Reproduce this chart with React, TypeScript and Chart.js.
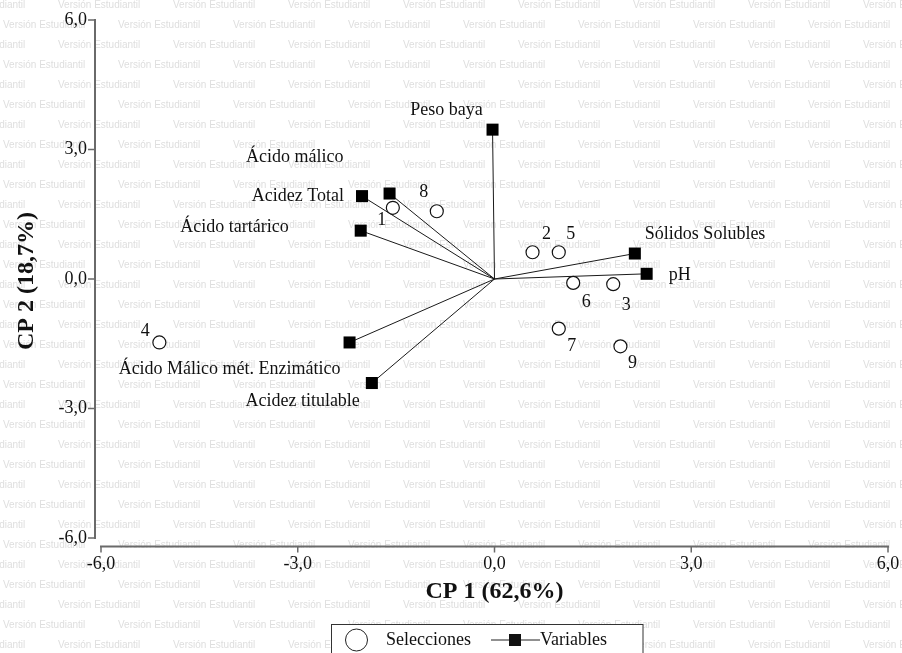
import { useEffect, useRef } from "react";
import { Chart, registerables } from "chart.js";

Chart.register(...registerables);

const W = 902;
const H = 653;

// Selections (observations) on the first two principal components
const selectionNames = ["1", "2", "3", "4", "5", "6", "7", "8", "9"];
const selectionCP1 = [-1.55, 0.58, 1.81, -5.11, 0.98, 1.2, 0.98, -0.88, 1.92];
const selectionCP2 = [1.65, 0.62, -0.12, -1.47, 0.62, -0.09, -1.15, 1.57, -1.56];

// Variables (scaled loadings)
const variableNames = [
  "Peso baya",
  "Ácido málico",
  "Acidez Total",
  "Ácido tartárico",
  "Ácido Málico mét. Enzimático",
  "Acidez titulable",
  "Sólidos Solubles",
  "pH",
];
const variableCP1 = [-0.03, -1.6, -2.02, -2.04, -2.21, -1.87, 2.14, 2.32];
const variableCP2 = [3.46, 1.98, 1.92, 1.12, -1.47, -2.41, 0.59, 0.12];

const xTicks = [-6, -3, 0, 3, 6];
const yTicks = [-6, -3, 0, 3, 6];

const xTitle = "CP 1 (62,6%)";
const yTitle = "CP 2 (18,7%)";
const legendSelections = "Selecciones";
const legendVariables = "Variables";
const watermarkText = "Versión Estudiantil";

// Label placement (pixel offsets from each marker)
const variableLabelLayout: [number, number, CanvasTextAlign][] = [
  [-46, -19, "center"],
  [-46, -36, "right"],
  [-18, 0, "right"],
  [-72, -3, "right"],
  [-9, 27, "right"],
  [-12, 18, "right"],
  [10, -19, "left"],
  [22, 1, "left"],
];
const selectionLabelLayout: [number, number][] = [
  [-11, 12],
  [14, -18],
  [13, 21],
  [-14, -11],
  [12, -18],
  [13, 19],
  [13, 18],
  [-13, -19],
  [12, 17],
];

const SERIF = '"Liberation Serif", "Times New Roman", serif';
const fmt = (v: number) => v.toFixed(1).replace(".", ",");

const backgroundPlugin = {
  id: "studentBackground",
  beforeDraw(chart: Chart) {
    const ctx = chart.ctx;
    ctx.save();
    ctx.fillStyle = "#ffffff";
    ctx.fillRect(0, 0, W, H);
    ctx.font = '10px "Liberation Sans", Arial, sans-serif';
    ctx.fillStyle = "#dedede";
    ctx.textBaseline = "middle";
    ctx.textAlign = "left";
    const period = 115;
    for (let row = 0; row * 20 + 5 < H + 10; row++) {
      const y = 5 + row * 20;
      const start = row % 2 === 0 ? 58 - period : 3 - period;
      for (let x = start; x < W; x += period) {
        ctx.fillText(watermarkText, x, y);
      }
    }
    ctx.restore();
  },
};

const overlayPlugin = {
  id: "biplotOverlay",
  afterDraw(chart: Chart) {
    const ctx = chart.ctx;
    const xs = chart.scales.x;
    const ys = chart.scales.y;
    const area = chart.chartArea;
    ctx.save();

    // axes (drawn detached from the corner)
    const yAxisX = area.left - 6;
    const xAxisY = area.bottom + 8.5;
    ctx.strokeStyle = "#6a6a6a";
    ctx.lineWidth = 2;
    ctx.beginPath();
    ctx.moveTo(yAxisX, ys.getPixelForValue(yTicks[yTicks.length - 1]) - 1);
    ctx.lineTo(yAxisX, ys.getPixelForValue(yTicks[0]) + 1);
    ctx.moveTo(xs.getPixelForValue(xTicks[0]) - 1, xAxisY);
    ctx.lineTo(xs.getPixelForValue(xTicks[xTicks.length - 1]) + 1, xAxisY);
    ctx.stroke();
    ctx.lineWidth = 1.5;
    ctx.beginPath();
    yTicks.forEach((t) => {
      const py = ys.getPixelForValue(t);
      ctx.moveTo(yAxisX - 7, py);
      ctx.lineTo(yAxisX, py);
    });
    xTicks.forEach((t) => {
      const px = xs.getPixelForValue(t);
      ctx.moveTo(px, xAxisY);
      ctx.lineTo(px, xAxisY + 6);
    });
    ctx.stroke();

    ctx.fillStyle = "#111";
    ctx.font = `18px ${SERIF}`;
    ctx.textBaseline = "middle";
    ctx.textAlign = "right";
    yTicks.forEach((t) => ctx.fillText(fmt(t), yAxisX - 8, ys.getPixelForValue(t)));
    ctx.textAlign = "center";
    xTicks.forEach((t) => ctx.fillText(fmt(t), xs.getPixelForValue(t), xAxisY + 18));

    // axis titles
    ctx.font = `bold 24px ${SERIF}`;
    ctx.fillText(xTitle, xs.getPixelForValue(0), 592);
    ctx.save();
    ctx.translate(27, ys.getPixelForValue(0) + 2);
    ctx.rotate(-Math.PI / 2);
    ctx.fillText(yTitle, 0, 0);
    ctx.restore();

    // marker labels
    ctx.font = `18px ${SERIF}`;
    variableNames.forEach((name, i) => {
      const [dx, dy, align] = variableLabelLayout[i];
      ctx.textAlign = align;
      ctx.fillText(
        name,
        xs.getPixelForValue(variableCP1[i]) + dx,
        ys.getPixelForValue(variableCP2[i]) + dy
      );
    });
    ctx.textAlign = "center";
    selectionNames.forEach((name, i) => {
      const [dx, dy] = selectionLabelLayout[i];
      ctx.fillText(
        name,
        xs.getPixelForValue(selectionCP1[i]) + dx,
        ys.getPixelForValue(selectionCP2[i]) + dy
      );
    });

    // legend box
    const lx = 331.5;
    const ly = 624.5;
    ctx.fillStyle = "#ffffff";
    ctx.fillRect(lx, ly, 311.5, 40);
    ctx.strokeStyle = "#333";
    ctx.lineWidth = 1;
    ctx.strokeRect(lx, ly, 311.5, 40);
    const cy = 640;
    ctx.beginPath();
    ctx.arc(356.5, cy, 11, 0, Math.PI * 2);
    ctx.lineWidth = 1;
    ctx.strokeStyle = "#222";
    ctx.stroke();
    ctx.fillStyle = "#111";
    ctx.textAlign = "left";
    ctx.fillText(legendSelections, 386, cy);
    ctx.beginPath();
    ctx.moveTo(491, cy);
    ctx.lineTo(540, cy);
    ctx.lineWidth = 1.2;
    ctx.stroke();
    ctx.fillRect(509, cy - 6, 12, 12);
    ctx.fillText(legendVariables, 540, cy);

    ctx.restore();
  },
};

export default function App() {
  const ref = useRef<HTMLCanvasElement>(null);

  useEffect(() => {
    if (!ref.current) return;

    const variableDatasets = variableNames.map((name, i) => ({
      label: name,
      data: [
        { x: 0, y: 0 },
        { x: variableCP1[i], y: variableCP2[i] },
      ],
      showLine: true,
      borderColor: "#1a1a1a",
      borderWidth: 1,
      backgroundColor: "#000000",
      pointStyle: "rect" as const,
      pointRadius: [0, 8.5],
      pointBorderWidth: 0,
      clip: false as const,
    }));

    const chart = new Chart(ref.current, {
      type: "scatter",
      data: {
        datasets: [
          {
            label: legendSelections,
            data: selectionCP1.map((x, i) => ({ x, y: selectionCP2[i] })),
            pointStyle: "circle",
            pointRadius: 6.5,
            backgroundColor: "#ffffff",
            borderColor: "#111111",
            borderWidth: 1.2,
            clip: false,
          },
          ...variableDatasets,
        ],
      },
      options: {
        animation: false,
        responsive: false,
        devicePixelRatio: 1,
        layout: { padding: { left: 101, right: 14, top: 20, bottom: 115 } },
        plugins: {
          legend: { display: false },
          tooltip: { enabled: false },
        },
        scales: {
          x: { type: "linear", min: -6, max: 6, display: false },
          y: { type: "linear", min: -6, max: 6, display: false },
        },
      },
      plugins: [backgroundPlugin, overlayPlugin],
    });
    return () => chart.destroy();
  }, []);

  return (
    <div style={{ position: "fixed", left: 0, top: 0, width: W, height: H, background: "#fff" }}>
      <canvas ref={ref} width={W} height={H} style={{ display: "block", width: W, height: H }} />
    </div>
  );
}
